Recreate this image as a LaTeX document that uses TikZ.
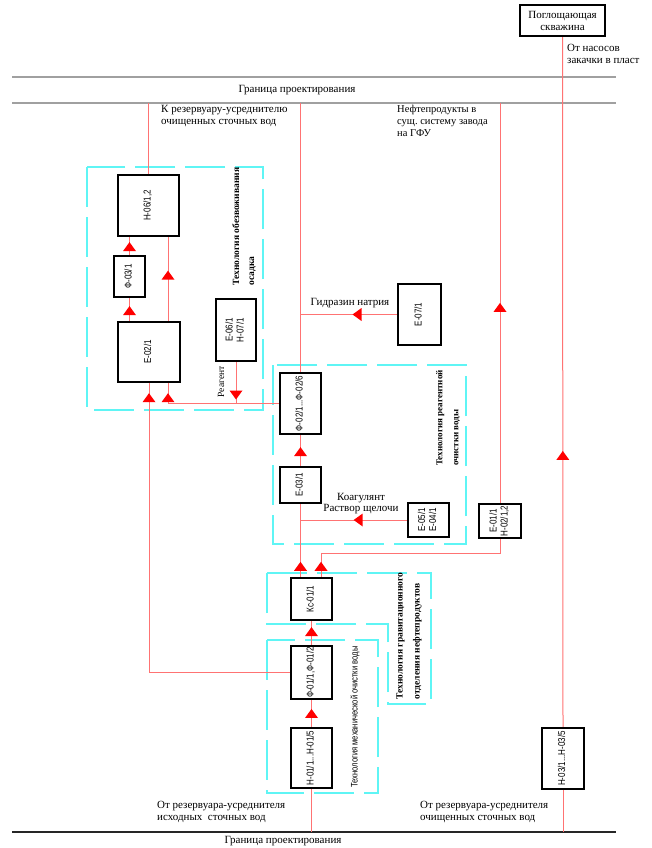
\documentclass[tikz,border=0pt]{standalone}
\usepackage{fontspec}
\usepackage{graphicx}
\setmainfont{Liberation Serif}
\newfontfamily\narrowfont[FakeStretch=0.8]{Liberation Sans}
\usetikzlibrary{decorations.markings}
\definecolor{lred}{RGB}{255,115,115}
\definecolor{ared}{RGB}{255,0,0}
\definecolor{lcyan}{RGB}{95,245,245}
\definecolor{bgray}{RGB}{160,160,160}
\newcommand\rotlbl[1]{\rotatebox{90}{\begin{tabular}{@{}c@{}}#1\end{tabular}}}
\frenchspacing
\begin{document}
\begin{tikzpicture}[x=1pt,y=-1pt,
  unit/.style={draw=black, line width=2.4pt, fill=white, inner sep=0pt,
    font=\narrowfont\fontsize{10}{11}\selectfont},
  flow/.style={draw=lred, line width=1pt},
  zone/.style={draw=lcyan, line width=1.5pt, dash pattern=on 40pt off 10pt},
  lbl/.style={font=\fontsize{11}{12}\selectfont, inner sep=0pt, align=left},
  zlbl/.style={rotate=90, align=left, inner sep=0pt},
  arrowat/.style={postaction={decorate,decoration={markings,
    mark=at position #1 with {\fill[ared] (0,0) -- (-9,6.5) -- (-9,-6.5) -- cycle;}}}}
]
\useasboundingbox (0,0) rectangle (652,848);
\fill[white] (0,0) rectangle (652,848);

% design boundaries
\draw[bgray, line width=1.2pt] (12,77) -- (616,77);
\draw[bgray, line width=1.2pt] (12,103) -- (616,103);
\draw[black!85, line width=1.5pt] (12,832) -- (616,832);
\coordinate (tl) at (0,103);
\coordinate (bl) at (0,832);

% technology zones
\draw[zone] (87,167) rectangle (263,410);
\draw[zone] (273,365) rectangle (466,544);
\draw[zone] (267,573) -- (431,573) -- (431,704) -- (388,704) -- (388,624) -- (267,624) -- cycle;
\draw[zone] (267,640) rectangle (378,793);

% equipment
\node[unit, minimum width=85pt, minimum height=31pt, align=center,
  font=\fontsize{11}{12}\selectfont] (pg) at (562.5,20.5) {Поглощающая\\скважина};
\node[unit, minimum width=61pt, minimum height=61pt] (h06) at (148.5,205.5) {\rotlbl{Н-06/1,2}};
\node[unit, minimum width=31pt, minimum height=41pt] (f03) at (129.5,276.5) {\rotlbl{Ф-03/1}};
\node[unit, minimum width=62pt, minimum height=60pt] (e02) at (149,352) {\rotlbl{Е-02/1}};
\node[unit, minimum width=40pt, minimum height=62pt] (e06) at (236,330) {\rotlbl{Е-06/1\\Н-07/1}};
\node[unit, minimum width=43pt, minimum height=61pt] (e07) at (419.5,314.5) {\rotlbl{Е-07/1}};
\node[unit, minimum width=41pt, minimum height=61pt] (f02) at (300.5,403.5) {\rotlbl{Ф-02/1...Ф-02/6}};
\node[unit, minimum width=41pt, minimum height=36pt] (e03) at (300.5,485) {\rotlbl{Е-03/1}};
\node[unit, minimum width=41pt, minimum height=34pt] (e05) at (428.5,520) {\rotlbl{Е-05/1\\Е-04/1}};
\node[unit, minimum width=42pt, minimum height=34pt] (e01) at (500,521) {\rotlbl{Е-01/1\\Н-02/1,2}};
\node[unit, minimum width=41pt, minimum height=42pt] (kc) at (311.5,599) {\rotlbl{Кс-01/1}};
\node[unit, minimum width=41pt, minimum height=53pt] (f01) at (311.5,672.5) {\rotlbl{Ф-01/1,Ф-01/2}};
\node[unit, minimum width=41pt, minimum height=60pt] (n01) at (311.5,758) {\rotlbl{Н-01/1...Н-01/5}};
\node[unit, minimum width=42pt, minimum height=61pt] (n03) at (563,758.5) {\rotlbl{Н-03/1...Н-03/5}};

% flows
\coordinate (j168) at (168,403.5);
\coordinate (j321) at (321,553);
\draw[flow] (h06.north) -- (h06.north |- tl);
\draw[flow] (f02.north) -- (f02.north |- tl);
\draw[flow, arrowat=0.5] (e01.north) -- (e01.north |- tl);
\draw[flow, arrowat=0.4] (n03.north) -- (pg.south);
\draw[flow] (bl -| n03.south) -- (n03.south);
\draw[flow] (bl -| n01.south) -- (n01.south);
\draw[flow, arrowat=0.67] (n01.north) -- (f01.south);
\draw[flow, arrowat=0.75] (f01.north) -- (kc.south);
\draw[flow, arrowat=-10pt] (f01.west) -- (f01.west -| e02.south) -- (e02.south);
\draw[flow, arrowat=-10pt] (f02.west) -- (f02.west -| j168) -- (j168 |- e02.south);
\draw[flow, arrowat=-4pt] (e06.south) -- (e06.south |- f02.west);
\draw[flow, arrowat=0.6] (j168 |- e02.north) -- (j168 |- h06.south);
\draw[flow, arrowat=0.65] (f03.south |- e02.north) -- (f03.south);
\draw[flow, arrowat=0.72] (f03.north) -- (f03.north |- h06.south);
\draw[flow, arrowat=0.46] (e07.west) -- (e07.west -| f02.north);
\draw[flow, arrowat=0.61] (e03.north) -- (f02.south);
\draw[flow, arrowat=0.5] (e05.west) -- (e05.west -| e03.south);
\draw[flow, arrowat=15pt] (e03.south |- kc.north) -- (e03.south);
\draw[flow, arrowat=15pt] (j321 |- kc.north) -- (j321) -- (j321 -| e01.south) -- (e01.south);

% texts
\node[lbl, anchor=north west] (t1) at (567,44) {От насосов\\закачки в пласт};
\node[lbl, anchor=center] (t2) at (297,90) {Граница проектирования};
\node[lbl, anchor=north west] (t3) at (161,105) {К резервуару-усреднителю\\очищенных сточных вод};
\node[lbl, anchor=north west, font=\fontsize{10.5}{12}\selectfont] (t4) at (397,105) {Нефтепродукты в\\сущ. систему завода\\на ГФУ};
\node[lbl, anchor=north west] (t5) at (157,801) {От резервуара-усреднителя\\исходных\ \ сточных вод};
\node[lbl, anchor=north west] (t6) at (420,801) {От резервуара-усреднителя\\очищенных сточных вод};
\node[lbl, anchor=center] (t7) at (283,841) {Граница проектирования};
\node[lbl, anchor=center] (t8) at (350,303) {Гидразин натрия};
\node[lbl, anchor=center, align=center, font=\fontsize{11}{11}\selectfont] (t9) at (361,504) {Коагулянт\\Раствор щелочи};
\node[zlbl, font=\fontsize{9.5}{10}\selectfont] (t10) at (221,382) {Реагент};
\node[zlbl, font=\bfseries\fontsize{9.5}{15}\selectfont] (z1) at (244,226.5) {Технология обезвоживания\\осадка};
\node[zlbl, font=\bfseries\fontsize{9}{16}\selectfont] (z2) at (448,418) {Технология реагентной\\очистки воды};
\node[zlbl, font=\bfseries\fontsize{9.5}{17}\selectfont] (z3) at (409,636) {Технология гравитационного\\отделения нефтепродуктов};
\node[zlbl, font=\narrowfont\fontsize{9.5}{11}\selectfont] (z4) at (355,717) {Технология механической очистки воды};
\end{tikzpicture}
\end{document}
